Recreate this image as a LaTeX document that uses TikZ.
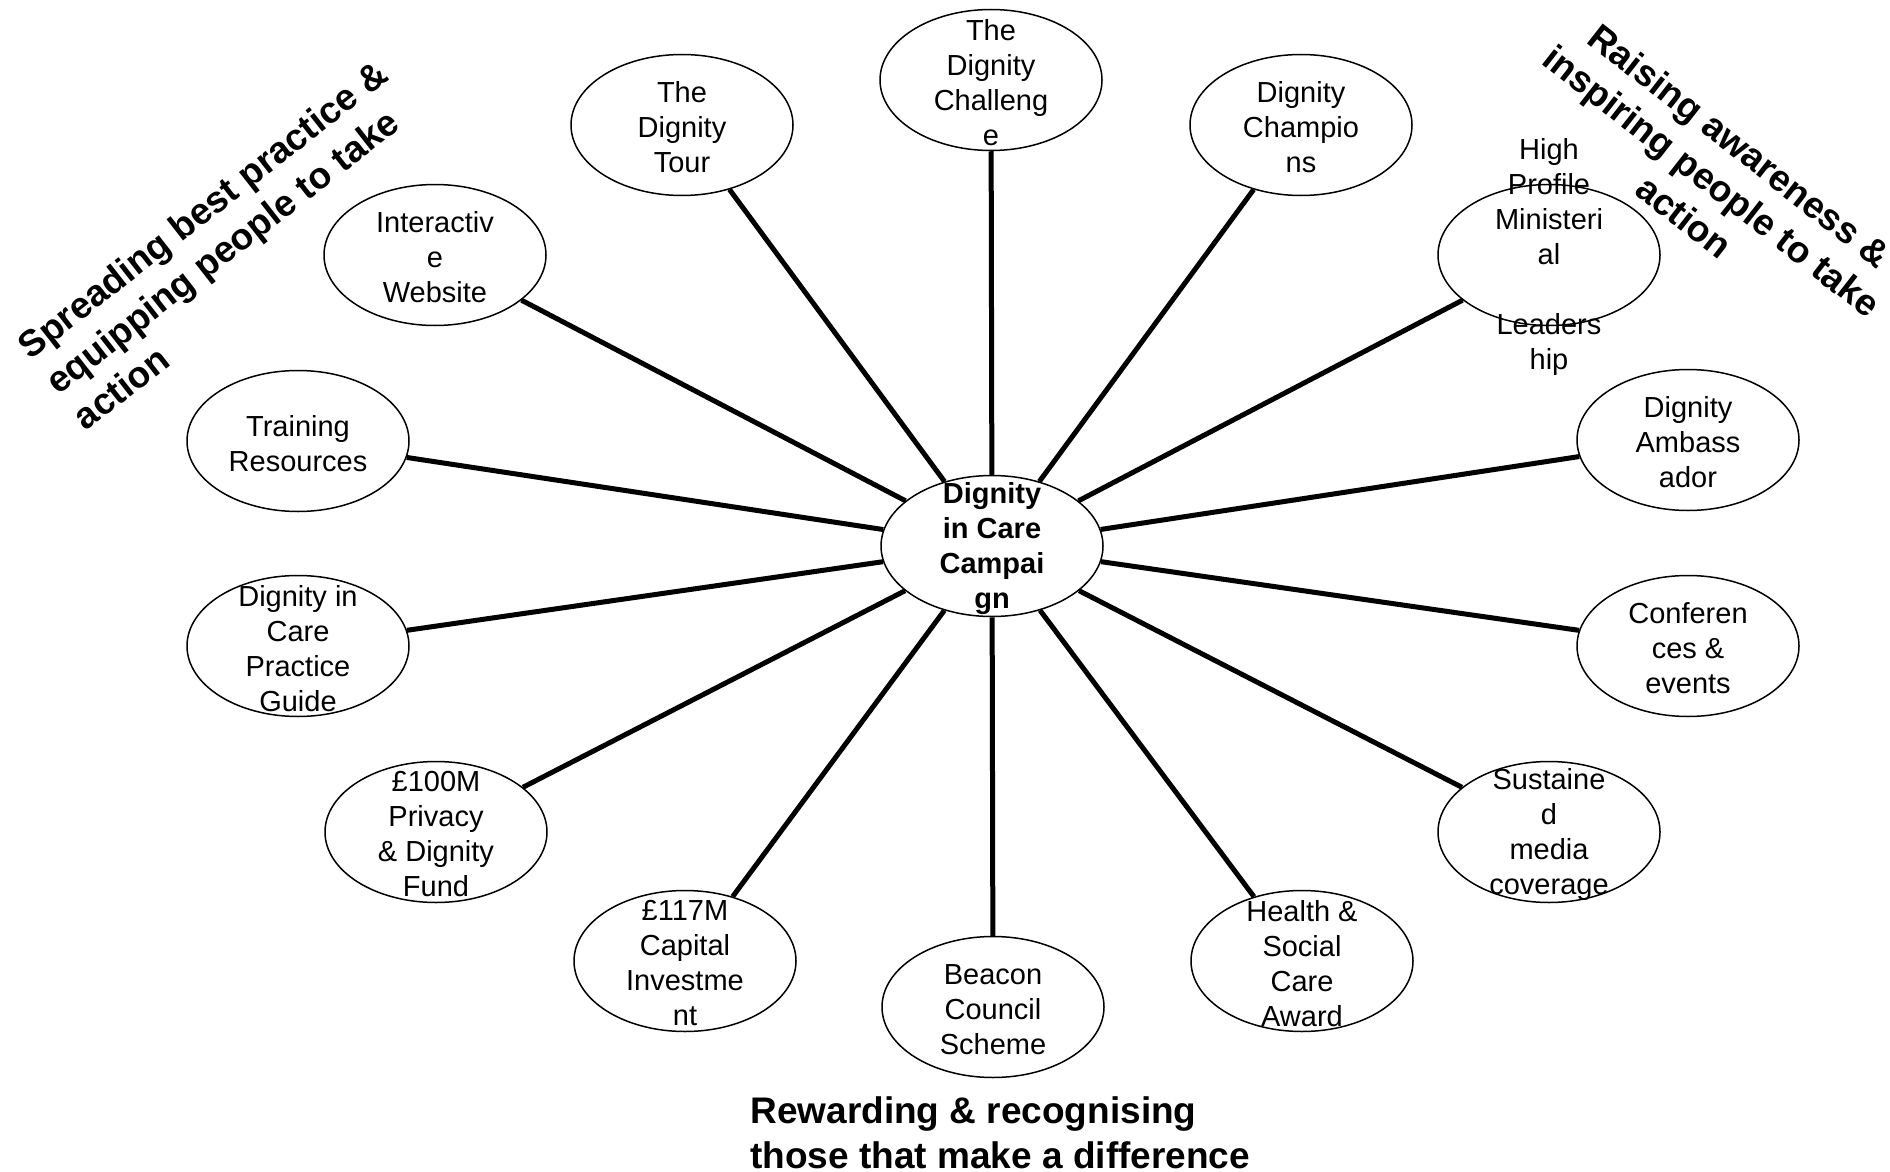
\documentclass[tikz,border=0pt]{standalone}
\usepackage{fontspec}
\setmainfont{Liberation Sans}
\usetikzlibrary{shapes.geometric}
\begin{document}
\begin{tikzpicture}[x=0.5pt,y=-0.5pt,
 oval/.style={ellipse,draw,line width=0.75pt,minimum width=111pt,minimum height=70.5pt,inner sep=0pt},
 txt/.style={align=center,font=\fontsize{14.5}{17.5}\selectfont,inner sep=0pt,yshift=-1.2pt},
 hub/.style={align=center,font=\fontsize{14.5}{17.5}\selectfont\bfseries,inner sep=0pt,yshift=-1.2pt},
 theme/.style={font=\fontsize{18.5}{22.5}\selectfont\bfseries,inner sep=0pt},
 spoke/.style={line width=2.5pt}]
\useasboundingbox (0,0) rectangle (1890,1172);

\node[oval] (c) at (992,546) {};
\node[hub] (tc) at (c) {Dignity\\in Care\\Campai\\gn};

\node[oval] (n1) at (991,80) {};
\node[txt] (t1) at (n1) {The\\Dignity\\Challeng\\e};
\node[oval] (n2) at (1301,125) {};
\node[txt] (t2) at (n2) {Dignity\\Champio\\ns};
\node[oval] (n3) at (1549,255) {};
\node[txt] (t3) at (n3) {High\\Profile\\Ministeri\\al\\\mbox{}\\Leaders\\hip};
\node[oval] (n4) at (1688,440) {};
\node[txt] (t4) at (n4) {Dignity\\Ambass\\ador};
\node[oval] (n5) at (1688,646) {};
\node[txt] (t5) at (n5) {Conferen\\ces \&\\events};
\node[oval] (n6) at (1549,832) {};
\node[txt] (t6) at (n6) {Sustaine\\d\\media\\coverage};
\node[oval] (n7) at (1302,961) {};
\node[txt] (t7) at (n7) {Health \&\\Social\\Care\\Award};
\node[oval] (n8) at (993,1007) {};
\node[txt] (t8) at (n8) {Beacon\\Council\\Scheme};
\node[oval] (n9) at (685,961) {};
\node[txt] (t9) at (n9) {£117M\\Capital\\Investme\\nt};
\node[oval] (n10) at (436,832) {};
\node[txt] (t10) at (n10) {£100M\\Privacy\\\& Dignity\\Fund};
\node[oval] (n11) at (298,646) {};
\node[txt] (t11) at (n11) {Dignity in\\Care\\Practice\\Guide};
\node[oval] (n12) at (298,441) {};
\node[txt] (t12) at (n12) {Training\\Resources};
\node[oval] (n13) at (435,255) {};
\node[txt] (t13) at (n13) {Interactiv\\e\\Website};
\node[oval] (n14) at (682,125) {};
\node[txt] (t14) at (n14) {The\\Dignity\\Tour};

\foreach \i in {1,...,14} { \draw[spoke] (c) -- (n\i); }

\node[theme,rotate=38,align=left] (lbl1) at (230,245) {Spreading best practice \&\\equipping people to take\\action};
\node[theme,rotate=-38,align=center] (lbl2) at (1712,181) {Raising awareness \&\\inspiring people to take\\action};
\node[theme,anchor=west,align=left] (lbl3) at (750,1133) {Rewarding \& recognising\\those that make a difference};
\end{tikzpicture}
\end{document}
